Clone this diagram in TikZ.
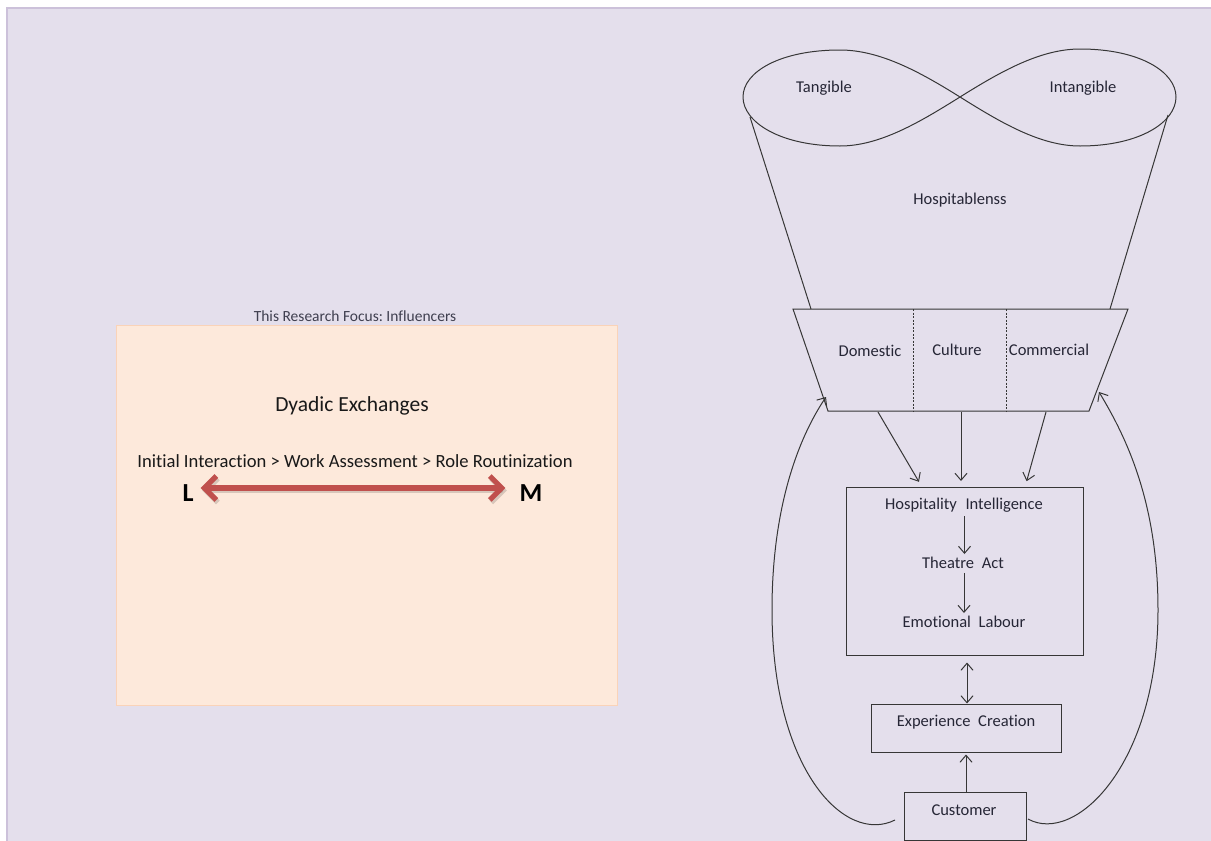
\documentclass[tikz,border=0pt]{standalone}
\usepackage{fontspec}
\setmainfont{Carlito}[Ligatures=NoCommon]
\frenchspacing
\usetikzlibrary{arrows.meta,calc}
\definecolor{bg}{HTML}{E4DFEC}
\definecolor{bgline}{HTML}{CCC1DA}
\definecolor{panel}{HTML}{FDE9DB}
\definecolor{panelline}{HTML}{FAD3B8}
\definecolor{ink}{HTML}{363636}
\definecolor{txt}{HTML}{262636}
\definecolor{ttl}{HTML}{3F3F4F}
\definecolor{redarrow}{HTML}{C0504D}
\begin{document}
\begin{tikzpicture}[x=1pt,y=-1pt,
  diag/.style={draw=ink,line width=1pt},
  arr/.style={diag,-{Straight Barb[length=7pt,width=12pt]}},
  darr/.style={diag,{Straight Barb[length=7pt,width=12pt]}-{Straight Barb[length=7pt,width=12pt]}},
  box/.style={draw=ink,line width=1pt,rectangle,inner sep=0pt},
  lab/.style={font=\fontsize{16.5}{18}\selectfont,text=txt,inner sep=0pt},
  redarr/.style={line width=5.2pt,line cap=round,line join=round,{Straight Barb[length=12pt,width=24pt]}-{Straight Barb[length=12pt,width=24pt]}}
]
\useasboundingbox (0,0) rectangle (1211,841);
\fill[white] (0,0) rectangle (1211,841);
\fill[bg] (7,8) rectangle (1211,841);
\draw[bgline,line width=1.5pt] (7,841) -- (7,8) -- (1211,8);

% ---------- left panel ----------
\node[draw=panelline,fill=panel,line width=1pt,minimum width=501pt,minimum height=380pt,inner sep=0pt] (panel) at (366.5,515) {};
\node[font=\fontsize{15.5}{17}\selectfont,text=ttl,inner sep=0pt] (title) at (355,316) {This Research Focus: Influencers};
\node[font=\fontsize{21.5}{24}\selectfont,text=black!90,inner sep=0pt] (dyad) at (352,406) {Dyadic Exchanges};
\node[font=\fontsize{18.6}{21}\selectfont,text=black!90,inner sep=0pt] (seq) at (355,461) {Initial Interaction > Work Assessment > Role Routinization};
\node[font=\fontsize{26}{28}\selectfont\bfseries,text=black,inner sep=0pt] (L) at (188,493) {L};
\node[font=\fontsize{26}{28}\selectfont\bfseries,text=black,inner sep=0pt] (M) at (531,493) {M};
\draw[redarr,draw=black,opacity=0.15,shorten <=7pt,shorten >=14pt] ([xshift=1.5pt,yshift=2.5pt]L.east) -- ([xshift=1.5pt,yshift=2.5pt]M.west);
\draw[redarr,draw=redarrow,shorten <=7pt,shorten >=14pt] ([yshift=5pt]L.east) -- ([yshift=5pt]M.west);

% ---------- infinity ----------
\draw[diag] (960,97) .. controls (920,72) and (880,50) .. (840,50)
  .. controls (780,50) and (743,72) .. (743,97)
  .. controls (743,122) and (780,146) .. (840,146)
  .. controls (880,146) and (920,122) .. (960,97)
  .. controls (1000,72) and (1040,49) .. (1080,49)
  .. controls (1140,49) and (1176,72) .. (1176,97)
  .. controls (1176,122) and (1140,146) .. (1080,146)
  .. controls (1040,146) and (1000,122) .. (960,97);
\node[lab] (tang) at (824,88) {Tangible};
\node[lab] (intang) at (1083,88) {Intangible};
\node[lab] (hosp) at (960,200) {Hospitablenss};

% ---------- trapezoid ----------
\coordinate (tl) at (793,309);
\coordinate (tr) at (1128,309);
\coordinate (br) at (1089,411);
\coordinate (bl) at (828,411);
\coordinate (il) at (750,117);
\coordinate (ir) at (1168,115);
\coordinate (jl) at (811,309);
\coordinate (jr) at (1110,309);
\draw[diag] (il) -- (jl);
\draw[diag] (ir) -- (jr);
\draw[diag] (tl) -- (tr) -- (br) -- (bl) -- cycle;
\draw[diag,line width=0.7pt,dash pattern=on 2pt off 1.5pt] (913,309) -- (913,411);
\draw[diag,line width=0.7pt,dash pattern=on 2pt off 1.5pt] (1006,309) -- (1006,411);
\node[lab] (dom) at (870,351) {Domestic};
\node[lab] (cul) at (957,350) {Culture};
\node[lab] (com) at (1049,350) {Commercial};

% ---------- boxes ----------
\node[box,minimum width=237pt,minimum height=168pt] (hi) at (964.5,571) {};
\node[box,minimum width=190pt,minimum height=48pt] (ec) at (966.5,728) {};
\node[box,minimum width=122pt,minimum height=48pt] (cust) at (965,816) {};
\node[lab] (hil) at (964,505) {Hospitality\hspace{5pt} Intelligence};
\node[lab] (tal) at (963,563) {Theatre\hspace{4pt} Act};
\node[lab] (ell) at (964,622) {Emotional\hspace{4pt} Labour};
\node[lab] (ecl) at (966,722) {Experience\hspace{4pt} Creation};
\node[lab] (cul2) at (964,810) {Customer};

% ---------- arrows ----------
\coordinate (t1) at (878,412);
\coordinate (t2) at (961,412);
\coordinate (t3) at (1046,412);
\coordinate (h1) at (922,487);
\coordinate (h2) at (961,487);
\coordinate (h3) at (1025,487);
\draw[arr,shorten >=6pt] (t1) -- (h1);
\draw[arr,shorten >=6pt] (t2) -- (h2);
\draw[arr,shorten >=6pt] (t3) -- (h3);
\draw[arr,shorten <=4pt,shorten >=3pt] ([xshift=0.5pt]hil.south) -- ([xshift=0.5pt]hil.south |- tal.north);
\draw[arr,shorten <=4pt,shorten >=3pt] ([xshift=1pt]tal.south) -- ([xshift=1pt]tal.south |- ell.north);
\draw[darr,shorten <=7pt] ([xshift=2.5pt]hi.south) -- ([xshift=2.5pt]hi.south |- ec.north);
\draw[arr,shorten >=2pt] ([xshift=1pt]cust.north) -- ([xshift=1pt]cust.north |- ec.south);

% ---------- feedback loops ----------
\coordinate (ls) at (895,820);
\coordinate (le) at (826,397);
\coordinate (rs) at (1028,819);
\coordinate (re) at (1099,392);
\draw[arr] (ls) .. controls (845,845) and (772,770) .. (772,610)
  .. controls (772,510) and (797,440) .. (le);
\draw[arr] (rs) .. controls (1075,845) and (1158,765) .. (1158,610)
  .. controls (1158,505) and (1128,440) .. (re);
\end{tikzpicture}
\end{document}
